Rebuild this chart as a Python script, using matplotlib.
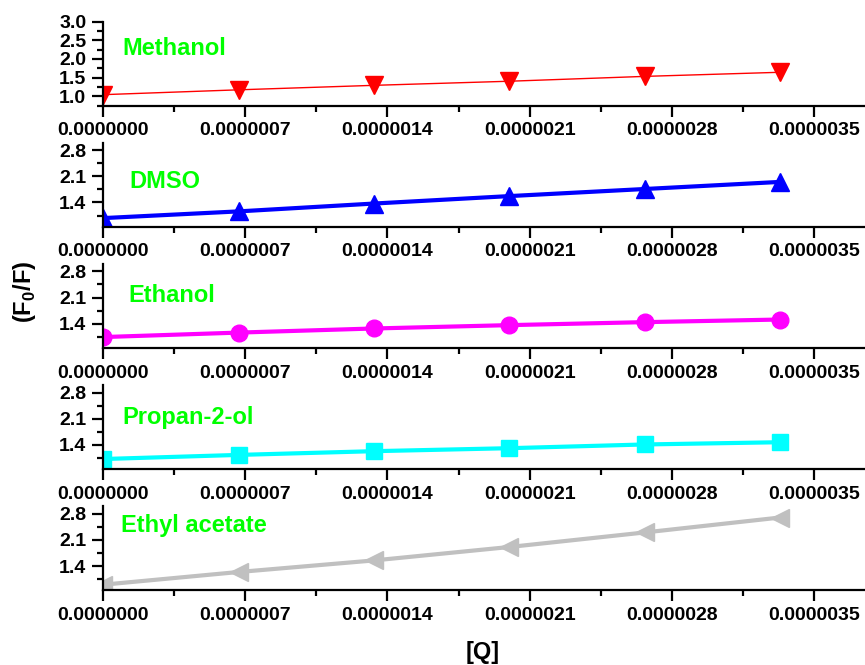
import matplotlib
matplotlib.use("Agg")
import matplotlib.pyplot as plt
from matplotlib.ticker import MultipleLocator, FuncFormatter

plt.rcParams['font.family'] = ['Liberation Sans', 'DejaVu Sans']
plt.rcParams['font.weight'] = 'bold'
plt.rcParams['mathtext.fontset'] = 'custom'
plt.rcParams['mathtext.bf'] = 'Liberation Sans:bold'
plt.rcParams['mathtext.rm'] = 'Liberation Sans:bold'

# quencher concentration [Q] (M)
conc = [0.0, 6.67e-7, 1.333e-6, 2.0e-6, 2.667e-6, 3.333e-6]

# F0/F for each solvent
methanol = [1.04, 1.17, 1.29, 1.40, 1.53, 1.64]
dmso = [0.98, 1.16, 1.37, 1.57, 1.76, 1.95]
ethanol = [1.04, 1.16, 1.27, 1.36, 1.44, 1.51]
propanol = [1.02, 1.13, 1.23, 1.31, 1.41, 1.47]
ethyl_acetate = [0.90, 1.24, 1.55, 1.91, 2.30, 2.70]

solvents = ['Methanol', 'DMSO', 'Ethanol', 'Propan-2-ol', 'Ethyl acetate']
series = [methanol, dmso, ethanol, propanol, ethyl_acetate]
colors = ['#FF0000', '#0000FF', '#FF00FF', '#00FFFF', '#C0C0C0']
markers = ['v', '^', 'o', 's', '<']
msizes = [13, 13, 12, 11, 13]
lwidths = [1.0, 3.0, 3.0, 3.0, 3.0]
label_pos = [(0.025, 0.68), (0.035, 0.54), (0.033, 0.62), (0.025, 0.615), (0.024, 0.77)]

W, H = 865, 665
fig = plt.figure(figsize=(W / 100, H / 100), dpi=100)

left = 103 / W
for i, (name, y) in enumerate(zip(solvents, series)):
    top = 21.5 + 121.2 * i
    ax = fig.add_axes([left, 1 - (top + 84) / H, 1 - left, 84 / H])
    ax.plot(conc, y, color=colors[i], lw=lwidths[i], marker=markers[i],
            ms=msizes[i], mec=colors[i], mfc=colors[i], zorder=3)
    ax.set_xlim(0, 3.75e-6)
    ax.set_ylim(0.75, 3.0)
    for s in ['top', 'right']:
        ax.spines[s].set_visible(False)
    for s in ['left', 'bottom']:
        ax.spines[s].set_linewidth(1.6)
        ax.spines[s].set_zorder(4)
    ax.xaxis.set_major_locator(MultipleLocator(0.7e-6))
    ax.xaxis.set_minor_locator(MultipleLocator(0.35e-6))
    ax.xaxis.set_major_formatter(FuncFormatter(lambda v, p: f'{v:.7f}'))
    if i == 0:
        ax.yaxis.set_major_locator(MultipleLocator(0.5))
        ax.yaxis.set_minor_locator(MultipleLocator(0.25))
    else:
        ax.yaxis.set_major_locator(MultipleLocator(0.7))
        ax.yaxis.set_minor_locator(MultipleLocator(0.35))
    ax.yaxis.set_major_formatter(FuncFormatter(lambda v, p: f'{v:.1f}'))
    ax.tick_params(which='major', direction='out', length=8, width=1.6,
                   labelsize=14, pad=4)
    ax.tick_params(which='minor', direction='out', length=4, width=1.6)
    ax.text(label_pos[i][0], label_pos[i][1], name, transform=ax.transAxes,
            color='#00FF00', fontsize=17, fontweight='bold', ha='left', va='center')

fig.text(24 / W, 1 - 292 / H, r'(F$_\mathbf{0}$/F)', rotation=90, fontsize=17,
         fontweight='bold', ha='center', va='center')
fig.text(483 / W, 1 - 653 / H, '[Q]', fontsize=17, fontweight='bold',
         ha='center', va='center')

fig.savefig('out.png', dpi=100)
